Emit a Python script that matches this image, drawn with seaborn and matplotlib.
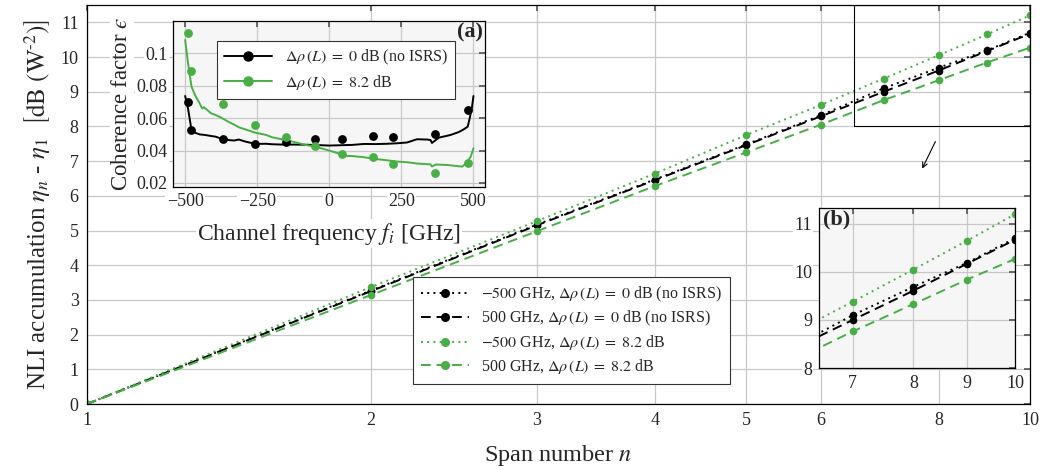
import matplotlib
matplotlib.use('Agg')
import matplotlib.pyplot as plt
from matplotlib.patches import Rectangle, FancyArrowPatch
from matplotlib.lines import Line2D
from matplotlib.ticker import FixedLocator, NullLocator, FixedFormatter
import seaborn as sns

# main plot: NLI accumulation over spans
spans = [1, 2, 3, 4, 5, 6, 7, 8, 9, 10]
nli_m500_noisrs = [0, 3.27, 5.17, 6.47, 7.48, 8.32, 9.10, 9.69, 10.19, 10.70]
nli_p500_noisrs = [0, 3.25, 5.15, 6.45, 7.46, 8.29, 9.00, 9.61, 10.17, 10.67]
nli_m500_isrs = [0, 3.37, 5.27, 6.64, 7.75, 8.62, 9.38, 10.05, 10.65, 11.20]
nli_p500_isrs = [0, 3.14, 4.98, 6.28, 7.25, 8.05, 8.76, 9.33, 9.84, 10.27]
main_xticks = [1, 2, 3, 4, 5, 6, 8, 10]
main_yticks = [0, 1, 2, 3, 4, 5, 6, 7, 8, 9, 10, 11]
legend_labels = [r'$-500$ GHz, $\Delta\rho\,(L)\;=\;0$ dB (no ISRS)',
                 r'500 GHz, $\Delta\rho\,(L)\;=\;0$ dB (no ISRS)',
                 r'$-500$ GHz, $\Delta\rho\,(L)\;=\;8.2$ dB',
                 r'500 GHz, $\Delta\rho\,(L)\;=\;8.2$ dB']

# inset (a): coherence factor per channel
freq_pts = [-491, -479, -369, -259, -149, -48, 44, 151, 221, 368, 482]
eps_pts_noisrs = [0.0702, 0.0527, 0.0472, 0.0439, 0.0455, 0.0472, 0.0470, 0.0490, 0.0482, 0.0501, 0.0650]
eps_pts_isrs = [0.1124, 0.0891, 0.0688, 0.0556, 0.0486, 0.0428, 0.0377, 0.0362, 0.0317, 0.0264, 0.0325]

freq_curve_noisrs = [-500, -490, -478, -465, -450, -430, -410, -395, -385, -372, -365, -360, -350,
                     -330, -314, -290, -256, -220, -198, -160, -120, -82, -40, 0, 40, 80, 120,
                     160, 200, 235, 270, 304, 340, 351, 356, 380, 420, 450, 465, 472, 480, 487, 495, 500]
eps_curve_noisrs = [0.0737, 0.0660, 0.0527, 0.0510, 0.0500, 0.0496, 0.0490, 0.0486, 0.0480, 0.0470, 0.0460,
                    0.0472, 0.0465, 0.0462, 0.0468, 0.0455, 0.0441, 0.0442, 0.0439, 0.0437, 0.0437,
                    0.0436, 0.0434, 0.0431, 0.0433, 0.0435, 0.0441, 0.0440, 0.0442, 0.0445, 0.0450,
                    0.0470, 0.0468, 0.0465, 0.0447, 0.0480, 0.0496, 0.0515, 0.0530, 0.0538, 0.0548,
                    0.0600, 0.0670, 0.0737]
freq_curve_isrs = [-500, -490, -478, -465, -450, -441, -435, -410, -395, -380, -372, -350, -330, -314,
                   -290, -256, -220, -198, -160, -140, -120, -82, -40, 0, 40, 61, 80, 120, 160, 200,
                   235, 270, 304, 340, 351, 356, 370, 409, 440, 461, 472, 478, 490, 500]
eps_curve_isrs = [0.1083, 0.0940, 0.0795, 0.0740, 0.0692, 0.0660, 0.0668, 0.0630, 0.0620, 0.0608, 0.0600,
                  0.0578, 0.0560, 0.0544, 0.0530, 0.0510, 0.0497, 0.0482, 0.0468, 0.0461, 0.0452,
                  0.0435, 0.0420, 0.0400, 0.0378, 0.0367, 0.0366, 0.0359, 0.0348, 0.0340, 0.0332,
                  0.0328, 0.0320, 0.0316, 0.0315, 0.0302, 0.0314, 0.0311, 0.0305, 0.0301, 0.0318,
                  0.0332, 0.0360, 0.0414]
inset_a_xticks = [-500, -250, 0, 250, 500]
inset_a_yticks = [0.02, 0.04, 0.06, 0.08, 0.1]
inset_a_ylabels = ['0.02', '0.04', '0.06', '0.08', '0.1']
inset_a_legend = [r'$\Delta\rho\,(L)\;=\;0$ dB (no ISRS)', r'$\Delta\rho\,(L)\;=\;8.2$ dB']

# inset (b): zoom of last spans
inset_b_xticks = [7, 8, 9, 10]
inset_b_yticks = [8, 9, 10, 11]

green = '#4aae47'
grid_c = '#c8c8c8'
inset_bg = '#f6f6f6'

sns.set_theme(style='whitegrid', rc={'grid.color': grid_c, 'grid.linewidth': 0.9,
                                     'axes.edgecolor': 'black', 'axes.linewidth': 0.9})
plt.rcParams['font.family'] = ['Liberation Serif', 'DejaVu Serif']
plt.rcParams['mathtext.fontset'] = 'stix'

fig = plt.figure(figsize=(10.43, 4.70), dpi=100)
ax = fig.add_axes([0.0834, 0.1404, 0.9041, 0.849])

styles = [('black', (0, (1, 2.2))), ('black', (0, (5, 3))),
          (green, (0, (1, 2.2))), (green, (0, (5, 3)))]
series = [nli_m500_noisrs, nli_p500_noisrs, nli_m500_isrs, nli_p500_isrs]
for vals, (c, ls), lab in zip(series, styles, legend_labels):
    sns.lineplot(x=spans, y=vals, ax=ax, color=c, linestyle=ls, lw=1.4, marker='o',
                 markersize=5.5, markeredgewidth=0, label=lab)

ax.set_xscale('log')
ax.set_xlim(1, 10)
ax.set_ylim(0, 11.5)
ax.xaxis.set_major_locator(FixedLocator(main_xticks))
ax.xaxis.set_major_formatter(FixedFormatter([str(t) for t in main_xticks]))
ax.xaxis.set_minor_locator(NullLocator())
ax.set_yticks(main_yticks)
ax.tick_params(direction='in', top=True, right=True, length=4, color='0.35',
               labelsize=13, pad=6)
ax.set_xlabel(r'Span number $n$', fontsize=17.5, labelpad=10)
ax.set_ylabel(r'NLI accumulation $\eta_n$ - $\eta_1$  $\left[\mathrm{dB}\ (\mathrm{W}^{\text{-}2})\right]$',
              fontsize=18, labelpad=6)
ax.grid(True, color=grid_c)

leg = ax.legend(loc='lower left', bbox_to_anchor=(0.337, 0.03), fontsize=11.5, handlelength=3,
                labelspacing=0.3, fancybox=False, framealpha=1, edgecolor='0.2', borderpad=0.5)
leg.get_frame().set_linewidth(0.8)
for h in leg.legend_handles:
    h.set_markersize(6.5)

# zoom box and arrow
ax.add_patch(Rectangle((6.5, 8), 3.5, 3.5, fill=False, edgecolor='black', lw=0.8, zorder=5))
fig.patches.append(FancyArrowPatch(
    (0.898, 0.704), (0.883, 0.636), transform=fig.transFigure, arrowstyle='->',
    mutation_scale=9, lw=0.8, color='black'))

white_box = dict(facecolor='white', edgecolor='none', pad=1)

# inset (a)
axa = fig.add_axes([0.1659, 0.6021, 0.2991, 0.3532])
axa.set_facecolor(inset_bg)
sns.lineplot(x=freq_curve_noisrs, y=eps_curve_noisrs, ax=axa, color='black', lw=1.4)
sns.lineplot(x=freq_curve_isrs, y=eps_curve_isrs, ax=axa, color=green, lw=1.4)
sns.scatterplot(x=freq_pts, y=eps_pts_noisrs, ax=axa, color='black', s=40, linewidth=0, zorder=4)
sns.scatterplot(x=freq_pts, y=eps_pts_isrs, ax=axa, color=green, s=40, linewidth=0, zorder=4)
axa.set_xlim(-542, 540)
axa.set_ylim(0.0175, 0.12)
axa.set_xticks(inset_a_xticks)
axa.yaxis.set_major_locator(FixedLocator(inset_a_yticks))
axa.yaxis.set_major_formatter(FixedFormatter(inset_a_ylabels))
axa.tick_params(direction='in', top=True, right=True, length=4, color='0.35',
                labelsize=13, pad=4)
axa.grid(True, color=grid_c)
for t in axa.get_xticklabels() + axa.get_yticklabels():
    t.set_bbox(white_box)
axa.set_xlabel(r'Channel frequency $f_i$ [GHz]', fontsize=17, labelpad=8, bbox=white_box)
axa.set_ylabel('Coherence factor $\u03f5$', fontsize=16.5, labelpad=3, bbox=white_box)
axa.text(0.995, 0.99, '(a)', transform=axa.transAxes, ha='right', va='top',
         fontsize=16, fontweight='bold')
handles_a = [Line2D([], [], color='black', lw=1.4, marker='o', markersize=6.5),
             Line2D([], [], color=green, lw=1.4, marker='o', markersize=6.5)]
lega = axa.legend(handles_a, inset_a_legend, loc='upper left', bbox_to_anchor=(0.115, 0.93),
                  fontsize=11.5, handlelength=3, labelspacing=0.35, fancybox=False, framealpha=1,
                  edgecolor='0.2', borderpad=0.45)
lega.get_frame().set_linewidth(0.8)

# inset (b)
axb = fig.add_axes([0.7852, 0.217, 0.1879, 0.3404])
axb.set_facecolor(inset_bg)
for vals, (c, ls) in zip(series, styles):
    sns.lineplot(x=spans, y=vals, ax=axb, color=c, linestyle=ls, lw=1.4, marker='o',
                 markersize=5.5, markeredgewidth=0)
axb.set_xscale('log')
axb.set_xlim(6.5, 10)
axb.set_ylim(8, 11.33)
axb.xaxis.set_major_locator(FixedLocator(inset_b_xticks))
axb.xaxis.set_major_formatter(FixedFormatter([str(t) for t in inset_b_xticks]))
axb.xaxis.set_minor_locator(NullLocator())
axb.set_yticks(inset_b_yticks)
axb.tick_params(direction='in', top=True, right=True, length=4, color='0.35',
                labelsize=13, pad=5)
axb.grid(True, color=grid_c)
for t in axb.get_xticklabels() + axb.get_yticklabels():
    t.set_bbox(white_box)
axb.set_xlabel('')
axb.set_ylabel('')
axb.text(0.02, 0.99, '(b)', transform=axb.transAxes, ha='left', va='top',
         fontsize=16, fontweight='bold')

fig.savefig('out.png', dpi=100)
